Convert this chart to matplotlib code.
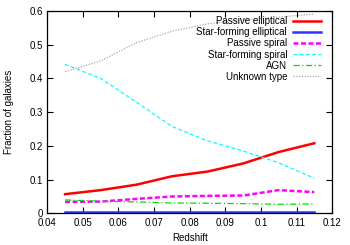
import matplotlib
matplotlib.use("Agg")
import matplotlib.pyplot as plt

redshift = [0.045, 0.055, 0.065, 0.075, 0.085, 0.095, 0.105, 0.115]
passive_elliptical = [0.057, 0.069, 0.085, 0.110, 0.124, 0.148, 0.182, 0.208]
sf_elliptical = [0.003, 0.003, 0.003, 0.003, 0.003, 0.003, 0.003, 0.003]
passive_spiral = [0.034, 0.035, 0.043, 0.050, 0.052, 0.053, 0.069, 0.063]
sf_spiral = [0.442, 0.400, 0.330, 0.258, 0.215, 0.185, 0.150, 0.104]
agn = [0.040, 0.036, 0.034, 0.031, 0.030, 0.029, 0.027, 0.028]
unknown = [0.420, 0.452, 0.506, 0.540, 0.562, 0.574, 0.582, 0.591]

labels = ["Passive elliptical", "Star-forming elliptical", "Passive spiral",
          "Star-forming spiral", "AGN", "Unknown type"]

plt.rcParams['font.family'] = ['Liberation Sans', 'DejaVu Sans']
fs = 7

fig = plt.figure(figsize=(3.5, 2.45), dpi=100)
ax = fig.add_axes([0.135, 0.129, 0.814, 0.826])

ax.plot(redshift, passive_elliptical, color='#ff0000', lw=1.8, label=labels[0])
ax.plot(redshift, sf_elliptical, color='#3333ff', lw=1.8, label=labels[1])
ax.plot(redshift, passive_spiral, color='#ff00ff', lw=1.8, ls=(0, (2, 1)), label=labels[2])
ax.plot(redshift, sf_spiral, color='#00ffff', lw=0.9, ls=(0, (3, 2)), label=labels[3])
ax.plot(redshift, agn, color='#00dd00', lw=0.9, ls=(0, (5, 2, 1, 2)), label=labels[4])
ax.plot(redshift, unknown, color='#aaaaaa', lw=0.9, ls=(0, (1, 1.2)), label=labels[5])

ax.set_xlim(0.04, 0.12)
ax.set_ylim(0, 0.6)
ax.set_xticks([0.04, 0.05, 0.06, 0.07, 0.08, 0.09, 0.1, 0.11, 0.12])
ax.set_xticklabels(["0.04", "0.05", "0.06", "0.07", "0.08", "0.09", "0.1", "0.11", "0.12"])
ax.set_yticks([0, 0.1, 0.2, 0.3, 0.4, 0.5, 0.6])
ax.set_yticklabels(["0", "0.1", "0.2", "0.3", "0.4", "0.5", "0.6"])
ax.tick_params(direction='in', length=4, width=0.8, top=True, right=True,
               labelsize=fs)
ax.tick_params(axis='x', pad=3.6)
ax.tick_params(axis='y', pad=3.3)
for s in ax.spines.values():
    s.set_linewidth(0.9)

ax.set_xlabel("Redshift", fontsize=fs, labelpad=3)
ax.set_ylabel("Fraction of galaxies", fontsize=fs, labelpad=11)

leg = ax.legend(loc='upper right', bbox_to_anchor=(0.968, 0.985), frameon=False,
                markerfirst=False, fontsize=fs, handlelength=2.9,
                handletextpad=0.6, labelspacing=0.12, borderpad=0.2,
                borderaxespad=0)

fig.savefig("out.png", dpi=100)
